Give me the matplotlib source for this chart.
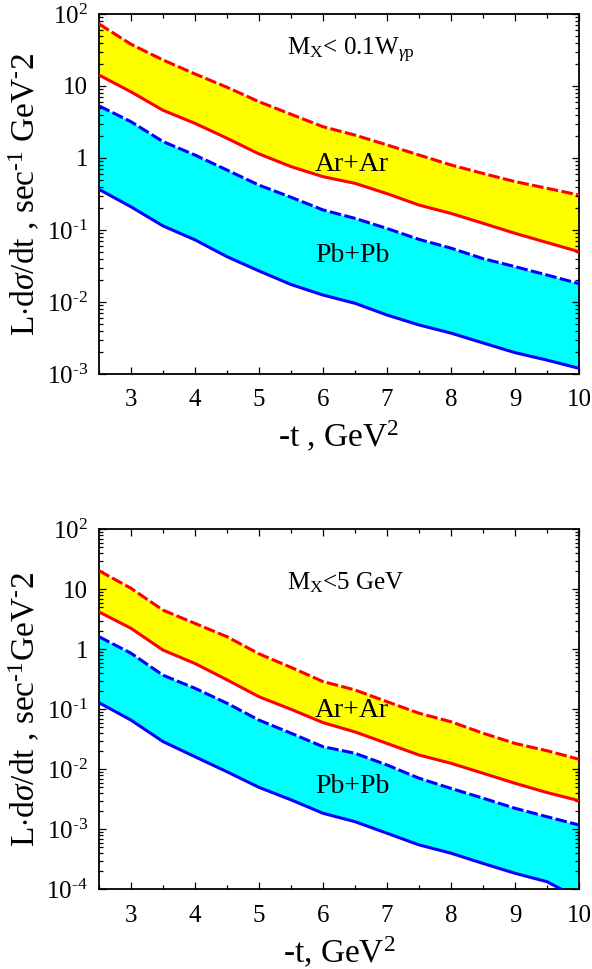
import numpy as np
import matplotlib
matplotlib.use("Agg")
import matplotlib.pyplot as plt
from matplotlib.ticker import MultipleLocator, LogLocator, FuncFormatter, NullFormatter

plt.rcParams['font.family'] = ['Liberation Serif', 'DejaVu Serif']
plt.rcParams['mathtext.fontset'] = 'custom'
plt.rcParams['mathtext.rm'] = 'Liberation Serif'
plt.rcParams['mathtext.it'] = 'Liberation Serif:italic'
plt.rcParams['mathtext.bf'] = 'Liberation Serif:bold'

# ---------------- data ----------------
t = [2.5, 3.0, 3.5, 4.0, 4.5, 5.0, 5.5, 6.0, 6.5, 7.0, 7.5, 8.0, 8.5, 9.0, 9.5, 10.0]

# Panel 1: M_X < 0.1 W_gamma p
ar_upper_1 = [72.7, 38.0, 23.0, 14.7, 9.6, 6.05, 4.05, 2.72, 2.08, 1.52, 1.10, 0.80, 0.61, 0.47, 0.38, 0.306]
ar_lower_1 = [14.2, 8.3, 4.6, 3.03, 1.88, 1.14, 0.76, 0.55, 0.445, 0.32, 0.222, 0.17, 0.124, 0.090, 0.067, 0.050]
pb_upper_1 = [5.3, 3.19, 1.69, 1.10, 0.68, 0.42, 0.285, 0.19, 0.145, 0.105, 0.074, 0.056, 0.040, 0.031, 0.0237, 0.018]
pb_lower_1 = [0.367, 0.21, 0.114, 0.073, 0.0426, 0.027, 0.0175, 0.0125, 0.0096, 0.0066, 0.0048, 0.0037, 0.0027, 0.00198, 0.00156, 0.0012]

# Panel 2: M_X < 5 GeV
ar_upper_2 = [20.4, 10.4, 4.5, 2.7, 1.62, 0.84, 0.50, 0.29, 0.21, 0.134, 0.086, 0.062, 0.040, 0.027, 0.0204, 0.0147]
ar_lower_2 = [4.2, 2.24, 0.97, 0.58, 0.31, 0.162, 0.10, 0.060, 0.042, 0.027, 0.0173, 0.0126, 0.0086, 0.00585, 0.0041, 0.0030]
pb_upper_2 = [1.62, 0.86, 0.37, 0.224, 0.126, 0.066, 0.040, 0.0238, 0.0185, 0.0118, 0.0071, 0.0048, 0.0033, 0.00224, 0.00162, 0.00118]
pb_lower_2 = [0.129, 0.066, 0.029, 0.0162, 0.0091, 0.0050, 0.0031, 0.00185, 0.00134, 0.00086, 0.00055, 0.00040, 0.00027, 0.000185, 0.000134, 0.00007]

x_ticks = [3, 4, 5, 6, 7, 8, 9, 10]
panel_titles = [r'M$_{\rm X}$< 0.1W$_{\gamma\rm p}$', r'M$_{\rm X}$<5 GeV']
x_labels = [r'-t , GeV$^2$', r'-t, GeV$^2$']
HY = '\u2010'
y_labels = [
    r'L$\cdot$d$\mathit{\sigma}$/dt , sec$^{' + HY + r'1}$ GeV$^{' + HY + r'}$2',
    r'L$\cdot$d$\mathit{\sigma}$/dt , sec$^{' + HY + r'1}$GeV$^{' + HY + r'}$2',
]
ylims = [(1e-3, 1e2), (1e-4, 1e2)]
text_pos = [
    {'title': (5.44, 31.6), 'ar': (5.875, 0.80), 'pb': (5.875, 0.044)},
    {'title': (5.44, 12.7), 'ar': (5.875, 0.097), 'pb': (5.875, 0.0052)},
]

RED = '#ff0000'
BLUE = '#0000ff'
YELLOW = '#ffff00'
CYAN = '#00ffff'

W, H = 592, 969
fig = plt.figure(figsize=(W / 100, H / 100), dpi=100)

axes_px = [(99, 14, 579, 374), (99, 529.3, 579, 889.3)]
data = [
    (ar_upper_1, ar_lower_1, pb_upper_1, pb_lower_1),
    (ar_upper_2, ar_lower_2, pb_upper_2, pb_lower_2),
]
xlabel_base = [447, 963]

def yfmt(v, pos):
    e = int(round(np.log10(v)))
    if e == 0:
        return '1'
    if e == 1:
        return '10'
    s = str(e).replace('-', HY)
    return r'10$^{' + s + r'}$'

for i in range(2):
    l, tp, r, b = axes_px[i]
    ax = fig.add_axes([l / W, 1 - b / H, (r - l) / W, (b - tp) / H])
    au, al, pu, pl = data[i]
    ax.fill_between(t, al, au, color=YELLOW, lw=0, zorder=1)
    ax.fill_between(t, pl, pu, color=CYAN, lw=0, zorder=1)
    ax.plot(t, au, color=RED, lw=2.2, ls=(0, (3.8, 1.1)), zorder=3)
    ax.plot(t, al, color=RED, lw=2.2, zorder=3)
    ax.plot(t, pu, color=BLUE, lw=2.2, ls=(0, (3.8, 1.1)), zorder=3)
    ax.plot(t, pl, color=BLUE, lw=2.2, zorder=3)

    ax.set_yscale('log')
    ax.set_xlim(2.5, 10)
    ax.set_ylim(*ylims[i])
    ax.set_xticks(x_ticks)
    ax.xaxis.set_minor_locator(MultipleLocator(0.5))
    ax.yaxis.set_major_locator(LogLocator(base=10, numticks=20))
    ax.yaxis.set_minor_locator(LogLocator(base=10, subs=np.arange(2, 10), numticks=20))
    ax.yaxis.set_major_formatter(FuncFormatter(yfmt))
    ax.yaxis.set_minor_formatter(NullFormatter())
    ax.tick_params(which='both', direction='in', top=True, right=True, width=0.9)
    ax.tick_params(which='major', length=5)
    ax.tick_params(which='minor', length=2.6)
    ax.tick_params(axis='x', which='major', labelsize=18, pad=11)
    ax.tick_params(axis='y', which='major', labelsize=18, pad=8)
    for sp in ax.spines.values():
        sp.set_linewidth(1.3)

    tp_ = text_pos[i]
    ax.text(*tp_['title'], panel_titles[i], fontsize=18, ha='left', va='center', zorder=5)
    ax.text(*tp_['ar'], 'Ar+Ar', fontsize=20, ha='left', va='center', zorder=5)
    ax.text(*tp_['pb'], 'Pb+Pb', fontsize=20, ha='left', va='center', zorder=5)

    fig.text((l + r) / 2 / W, 1 - xlabel_base[i] / H, x_labels[i], fontsize=24,
             ha='center', va='baseline')
    fig.text(25 / W, 1 - (tp + b) / 2 / H, y_labels[i], fontsize=24, rotation=90,
             ha='center', va='center')

fig.savefig('out.png', dpi=100)
